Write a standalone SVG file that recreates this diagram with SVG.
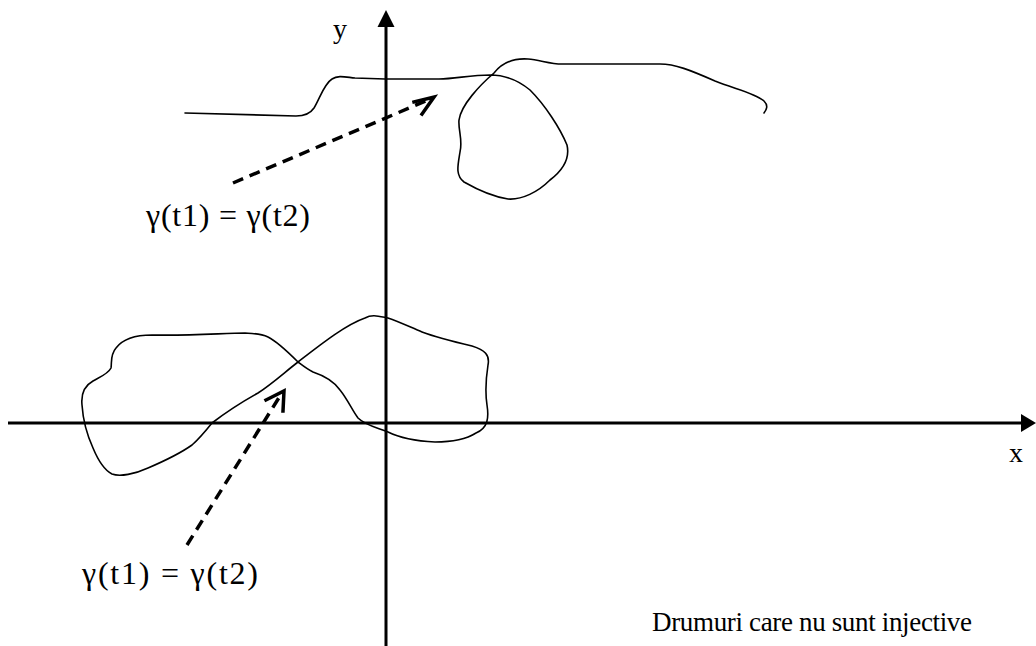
<svg xmlns="http://www.w3.org/2000/svg" width="1036" height="646" viewBox="0 0 1036 646">
<style>
.axis{stroke:#000;stroke-width:3;fill:none}
.curve{stroke:#000;stroke-width:1.6;fill:none;stroke-linejoin:round;stroke-linecap:round}
.dash{stroke:#000;stroke-width:3.5;fill:none;stroke-dasharray:11 7}
.head{stroke:#000;stroke-width:3.5;fill:none;stroke-linecap:square;stroke-linejoin:miter}
.lbl{font-family:"Liberation Serif","Times New Roman",serif;font-size:28px;fill:#000}
.gam{font-family:"Liberation Serif","Times New Roman",serif;font-size:32px;fill:#000}
.cap{font-family:"Liberation Serif","Times New Roman",serif;font-size:27px;fill:#000}
</style>
<rect width="1036" height="646" fill="#fff"/>
<g id="axes">
<line class="axis" x1="8" y1="423" x2="1024" y2="423"/>
<polygon points="1036,423 1021,414 1021,432" fill="#000"/>
<line class="axis" x1="386" y1="646" x2="386" y2="24"/>
<polygon points="386,10 377.5,27 394.5,27" fill="#000"/>
<text class="lbl" x="333" y="38">y</text>
<text class="lbl" x="1009" y="462">x</text>
</g>
<g id="curve-upper">
<path class="curve" d="M185,113 L296,116 C305,116 310,114 314,108 C320,98 324,84 332,79 C338,75 345,77 355,78 L385,79 L439,79 C455,79 470,75 490,75 C505,75 518,80 530,90 C545,105 560,128 567,145 C570,158 563,170 550,180 C538,192 522,200 508,199 C495,197 478,190 464,182 C455,175 458,165 460,152 C463,140 458,130 459,120 C461,105 480,85 494,73 C502,63 514,58 528,59 C540,60 550,64 562,64 L660,64 C675,64 690,70 715,81 C735,89 755,93 764,101 C769,106 766,110 764,113"/>
</g>
<g id="curve-lower">
<path class="curve" d="M298,362 C320,345 345,325 365,318 C372,314 378,316 388,318 C400,322 412,328 422,332 C438,338 455,342 472,346 C485,350 490,355 488,365 C486,378 485,392 487,405 C489,418 488,428 476,433 C465,440 450,442 435,442 C415,441 400,438 388,432 C375,427 365,425 358,418 C352,410 348,400 340,390 C333,380 322,375 313,372 C307,369 302,365 298,362 C288,352 278,342 268,337 C260,333 255,334 245,333 C225,333 190,336 152,335 C135,335 122,340 116,348 C110,355 112,362 111,368 C108,374 100,377 93,381 C84,386 81,395 82,405 C83,420 88,437 93,448 C98,460 104,470 112,474 C120,477 135,474 148,468 C162,462 178,455 192,445 C200,438 204,433 212,423 C225,413 240,403 258,393 C272,384 285,372 298,362 Z"/>
</g>
<g id="connectors">
<line class="dash" x1="233" y1="183" x2="428" y2="100"/>
<polyline class="head" points="414,102 434,97 422,114"/>
<line class="dash" x1="187" y1="545" x2="280" y2="396"/>
<polyline class="head" points="266,400 284,391 283,411"/>
</g>
<g id="labels">
<text class="gam" x="146" y="226" textLength="164" lengthAdjust="spacing">γ(t1) = γ(t2)</text>
<text class="gam" x="82" y="584" textLength="176" lengthAdjust="spacing">γ(t1) = γ(t2)</text>
<text class="cap" x="652" y="631" textLength="320" lengthAdjust="spacing">Drumuri care nu sunt injective</text>
</g>
</svg>
